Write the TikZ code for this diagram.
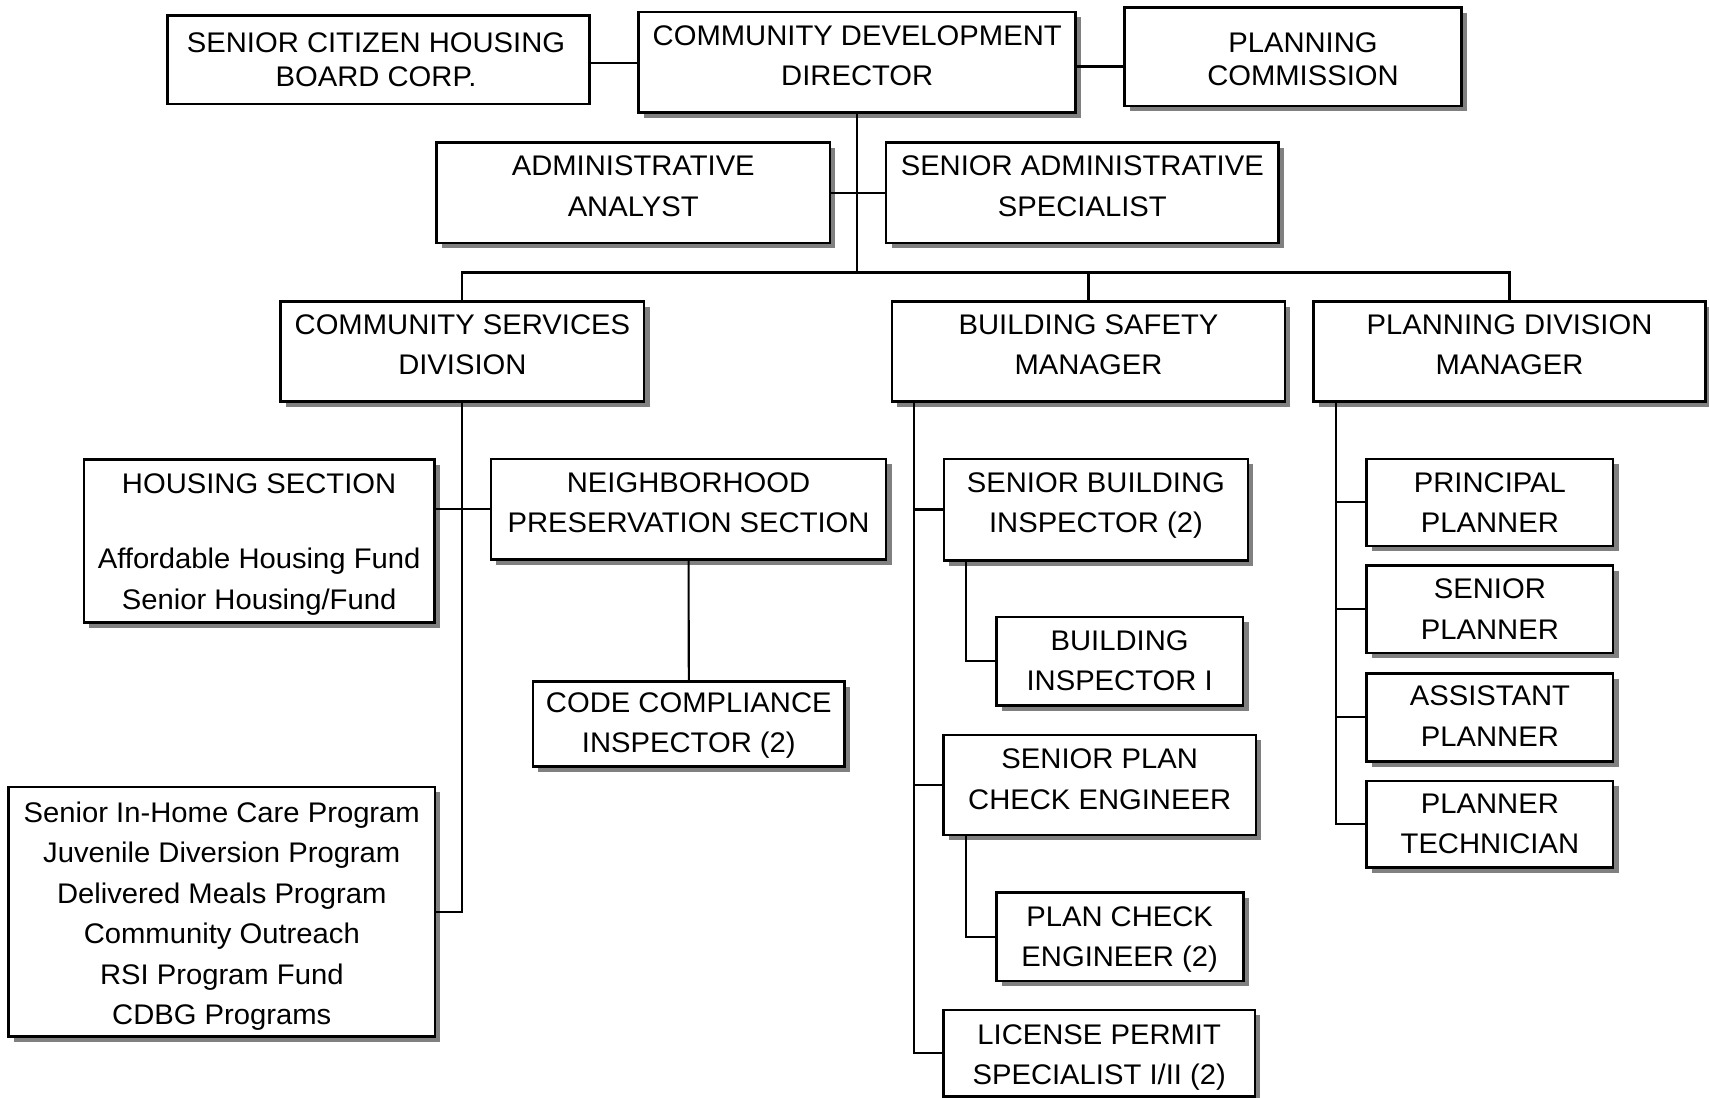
\documentclass[tikz,border=0pt]{standalone}
\usepackage{fontspec}
\setmainfont{Liberation Sans}[FakeStretch=1.03]
\usetikzlibrary{fit,calc}

\tikzset{
  orgbox/.style={draw=black, fill=white, line width=0.7pt, inner sep=0pt},
  boxshadow/.style={fill=gray},
  orgtext/.style={font=\fontsize{7.4pt}{10.58pt}\selectfont, align=center,
                  inner sep=0pt, anchor=north},
  link/.style={draw=black, line width=0.55pt}
}

% #1 extra text options, #2 name, #3-#6 corners (x1,y1,x2,y2), #7 top of text, #8 text
\newcommand{\orgunit}[8][]{%
  \fill[boxshadow] (#3+5,#4+5) rectangle (#5+5,#6+5);
  \node[orgbox, fit={(#3,#4) (#5,#6)}] (#2) {};
  \node[orgtext,#1] (#2-t) at ({(#3+#5)/2},#7) {#8};
}

\begin{document}
\begin{tikzpicture}[x=0.01cm, y=-0.01cm]
  \useasboundingbox (0,0) rectangle (1568,1007);

  % top row
  \node[orgbox, fit={(153.5,14.4) (541,95.4)}] (sch) {};
  \node[orgtext, font=\fontsize{7.4pt}{8.82pt}\selectfont] (sch-t) at (345,29.7)
    {SENIOR CITIZEN HOUSING\\BOARD CORP.};
  \orgunit{cdd}{586}{11}{987}{103}{22.7}{COMMUNITY DEVELOPMENT\\DIRECTOR}
  \orgunit[xshift=0.09cm, font=\fontsize{7.4pt}{8.5pt}\selectfont]{pc}{1032}{6.7}{1341}{97.3}{29.7}{PLANNING\\COMMISSION}

  % staff
  \orgunit{aa}{400.5}{131}{761.5}{223}{142.4}{ADMINISTRATIVE\\ANALYST}
  \orgunit{sas}{813}{131}{1173}{223}{142.4}{SENIOR ADMINISTRATIVE\\SPECIALIST}

  % divisions
  \orgunit{csd}{257.5}{276.5}{591}{368.5}{287.7}{COMMUNITY SERVICES\\DIVISION}
  \orgunit{bsm}{818.4}{276.5}{1179}{368.5}{287.7}{BUILDING SAFETY\\MANAGER}
  \orgunit{pdm}{1205}{276.5}{1565}{368.5}{287.7}{PLANNING DIVISION\\MANAGER}

  % community services
  \orgunit{hs}{77}{421.4}{398.5}{571}{433.9}{HOUSING SECTION\\[9.08pt]Affordable Housing Fund\\Senior Housing/Fund}
  \orgunit{nps}{450.5}{421}{813}{513.5}{432.7}{NEIGHBORHOOD\\PRESERVATION SECTION}
  \orgunit{cci}{489}{625}{775}{703}{634.7}{CODE COMPLIANCE\\INSPECTOR (2)}
  \orgunit{sihc}{8}{722}{399}{951}{734.7}{Senior In-Home Care Program\\Juvenile Diversion Program\\Delivered Meals Program\\Community Outreach\\RSI Program Fund\\CDBG Programs}

  % building safety
  \orgunit{sbi}{866}{421}{1145}{514}{432.7}{SENIOR BUILDING\\INSPECTOR (2)}
  \orgunit{bi}{914}{566}{1140.5}{647}{577.7}{BUILDING\\INSPECTOR I}
  \orgunit{spce}{865.5}{674.4}{1152.4}{766}{686.5}{SENIOR PLAN\\CHECK ENGINEER}
  \orgunit{pce}{914}{819}{1140.6}{900}{831}{PLAN CHECK\\ENGINEER (2)}
  \orgunit{lps}{865.5}{926.7}{1151.5}{1006}{939.4}{LICENSE PERMIT\\SPECIALIST I/II (2)}

  % planning
  \orgunit{pp}{1254}{421}{1480}{501}{432.7}{PRINCIPAL\\PLANNER}
  \orgunit{sp}{1254}{519}{1480}{599}{530.7}{SENIOR\\PLANNER}
  \orgunit{ap}{1254}{617.7}{1480}{698.8}{628.7}{ASSISTANT\\PLANNER}
  \orgunit{pt}{1254}{716.6}{1480}{796}{727.7}{PLANNER\\TECHNICIAN}

  % connectors
  \coordinate (tl) at (560,57.5);
  \coordinate (tr) at (1010,61);
  \coordinate (bus) at (0,250);
  \coordinate (bt) at ([xshift=0.214cm]bsm.south west);
  \coordinate (bit) at ([xshift=0.215cm]sbi.south west);
  \coordinate (pct) at ([xshift=0.22cm]spce.south west);
  \coordinate (pt0) at ([xshift=0.22cm]pdm.south west);

  \draw[link] (sch.east |- tl) -- (cdd.west |- tl);
  \draw[link] (cdd.east |- tr) -- (pc.west |- tr);
  \draw[link] (cdd.south) -- (cdd.south |- bus);
  \draw[link] (aa.east) -- (sas.west);
  \draw[link] (csd.north) -- (csd.north |- bus) -- (pdm.north |- bus) -- (pdm.north);
  \draw[link] (bsm.north) -- (bsm.north |- bus);

  \draw[link] (csd.south) |- (sihc.east);
  \draw[link] (hs.east |- nps.west) -- (nps.west);
  \draw[link] (nps.south) -- (cci.north);

  \draw[link] (bt) |- (lps.west);
  \draw[link] (bt |- sbi.west) -- (sbi.west);
  \draw[link] (bt |- spce.west) -- (spce.west);
  \draw[link] (bit) |- (bi.west);
  \draw[link] (pct) |- (pce.west);

  \draw[link] (pt0) |- (pt.west);
  \draw[link] (pt0 |- pp.west) -- (pp.west);
  \draw[link] (pt0 |- sp.west) -- (sp.west);
  \draw[link] (pt0 |- ap.west) -- (ap.west);
\end{tikzpicture}
\end{document}
